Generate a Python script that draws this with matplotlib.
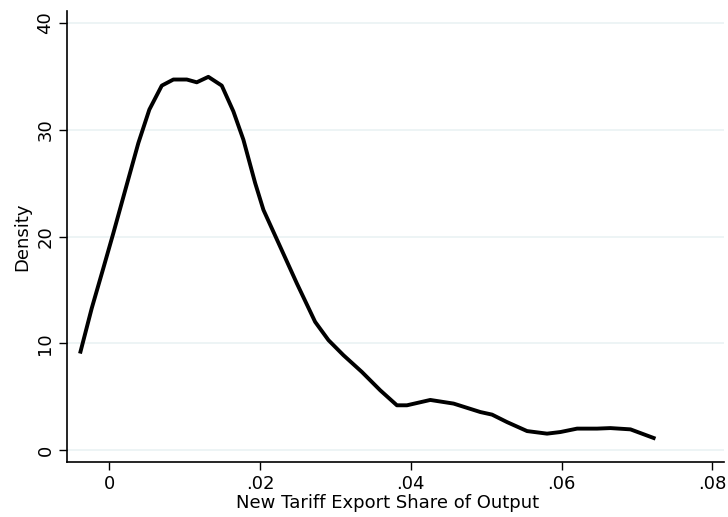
import matplotlib

matplotlib.use("Agg")
import matplotlib.pyplot as plt  # noqa: E402

# kernel density of the new-tariff export share, read at the plotted grid
share = [-0.0039, -0.00235, -0.00081, 0.00052, 0.0023, 0.00384, 0.0053, 0.00695,
         0.00849, 0.01027, 0.01159, 0.01313, 0.01491, 0.01645, 0.01778, 0.01934,
         0.02044, 0.02266, 0.02487, 0.0273, 0.02907, 0.03106, 0.0335, 0.03594,
         0.03815, 0.03948, 0.04258, 0.04567, 0.04922, 0.05077, 0.05276, 0.05542,
         0.05807, 0.05984, 0.06206, 0.06471, 0.06648, 0.06914, 0.07246]
density = [9.06, 13.28, 17.03, 20.31, 24.84, 28.74, 31.87, 34.11,
           34.68, 34.68, 34.42, 34.93, 34.11, 31.7, 29.05, 25.0,
           22.49, 19.05, 15.62, 12.02, 10.31, 8.9, 7.34, 5.62,
           4.22, 4.22, 4.72, 4.38, 3.59, 3.35, 2.65, 1.81,
           1.57, 1.72, 2.04, 2.04, 2.09, 1.97, 1.1]

xticks = [0, 0.02, 0.04, 0.06, 0.08]
xticklabels = ["0", ".02", ".04", ".06", ".08"]
yticks = [0, 10, 20, 30, 40]

fig = plt.figure(figsize=(7.28, 5.17), dpi=100)
ax = fig.add_axes([0.092, 0.106, 0.903, 0.873])

ax.plot(share, density, color="black", lw=2.8, solid_joinstyle="round",
        solid_capstyle="butt")

ax.set_xlim(-0.00563, 0.0816)
ax.set_ylim(-1.1, 41.1)
ax.set_xticks(xticks, xticklabels)
ax.set_yticks(yticks, [str(t) for t in yticks])
for lab in ax.get_yticklabels():
    lab.set_rotation(90)
    lab.set_va("center")
ax.tick_params(labelsize=13, length=6, width=1, direction="out", pad=3)
ax.yaxis.grid(True, color="#eaf2f3", lw=1.2)
ax.set_axisbelow(True)
for side in ("top", "right"):
    ax.spines[side].set_visible(False)
for side in ("left", "bottom"):
    ax.spines[side].set_linewidth(1.2)

ax.set_xlabel("New Tariff Export Share of Output", fontsize=13, labelpad=0)
ax.set_ylabel("Density", fontsize=13, labelpad=4)
ax.xaxis.set_label_coords(0.488, -0.071)

fig.savefig("out.png", dpi=100)
